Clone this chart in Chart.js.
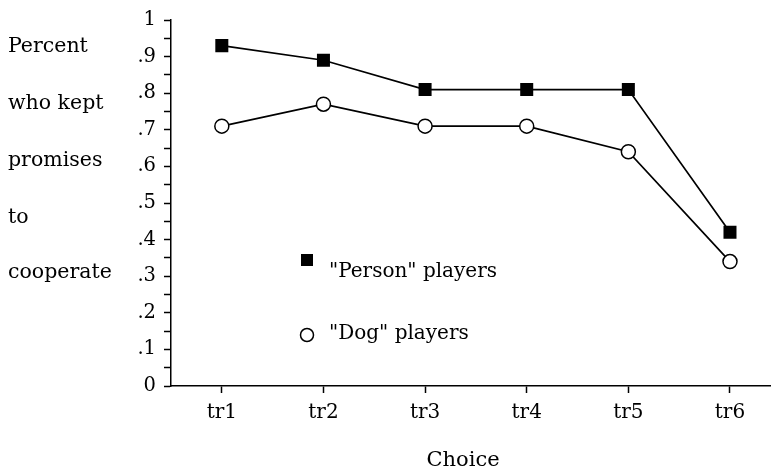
<!DOCTYPE html>
<html><head><meta charset="utf-8">
<script src="https://cdn.jsdelivr.net/npm/chart.js@4.4.0/dist/chart.umd.min.js"></script>
<style>
html,body{margin:0;padding:0;background:#fff;overflow:hidden;width:771px;height:470px}
#wrap{position:relative;width:790px;height:470px}
</style></head><body><div id="wrap"><canvas id="c" width="790" height="470"></canvas></div>
<script>
const categories = ['tr1','tr2','tr3','tr4','tr5','tr6'];
const personPlayers = [0.93, 0.89, 0.81, 0.81, 0.81, 0.42];
const dogPlayers = [0.71, 0.77, 0.71, 0.71, 0.64, 0.34];
const seriesNames = ['"Person" players', '"Dog" players'];
const yAxisTitleLines = ['Percent', 'who kept', 'promises', 'to', 'cooperate'];
const xAxisTitle = 'Choice';

const FONT = "'DejaVu Serif', serif";

const annot = {
  id: 'annot',
  afterDraw(chart) {
    const ctx = chart.ctx;
    ctx.save();
    ctx.fillStyle = '#000';
    ctx.font = '20.5px ' + FONT;
    ctx.textBaseline = 'middle';
    ctx.textAlign = 'left';
    const ys = [47, 104, 161, 218, 273];
    yAxisTitleLines.forEach((t, i) => ctx.fillText(t, 8, ys[i]));
    // x axis title
    ctx.textAlign = 'center';
    ctx.font = '21px ' + FONT;
    ctx.fillText(xAxisTitle, 463, 461);
    // legend
    ctx.textAlign = 'left';
    ctx.font = '20px ' + FONT;
    const ds = chart.data.datasets;
    const items = [{y: 260, ty: 272}, {y: 335, ty: 334}];
    items.forEach((it, i) => {
      const d = ds[i];
      ctx.lineWidth = 1.5;
      ctx.strokeStyle = '#000';
      ctx.fillStyle = d.pointBackgroundColor;
      if (d.pointStyle === 'rect') {
        ctx.fillRect(301, it.y - 6, 12, 12);
      } else {
        ctx.beginPath();
        ctx.arc(307, it.y, 6.5, 0, Math.PI * 2);
        ctx.fill();
        ctx.stroke();
      }
      ctx.fillStyle = '#000';
      ctx.fillText(seriesNames[i], 329, it.ty);
    });
    ctx.restore();
  }
};

new Chart(document.getElementById('c'), {
  type: 'line',
  data: {
    labels: categories,
    datasets: [
      {
        label: seriesNames[0], data: personPlayers,
        borderColor: '#000', borderWidth: 1.7, tension: 0,
        pointStyle: 'rect', pointRadius: 9.2,
        pointBackgroundColor: '#000', pointBorderColor: '#000', pointBorderWidth: 0
      },
      {
        label: seriesNames[1], data: dogPlayers,
        borderColor: '#000', borderWidth: 1.7, tension: 0,
        pointStyle: 'circle', pointRadius: 7,
        pointBackgroundColor: '#fff', pointBorderColor: '#000', pointBorderWidth: 1.5
      }
    ]
  },
  options: {
    responsive: false,
    animation: false,
    layout: {padding: {left: 0, top: 20, right: 9, bottom: 0}},
    plugins: {legend: {display: false}, tooltip: {enabled: false}},
    scales: {
      x: {
        offset: true,
        grid: {drawOnChartArea: false, offset: false, tickLength: 7, tickColor: '#000', tickWidth: 1.5},
        border: {display: true, color: '#000', width: 1.5},
        ticks: {color: '#000', font: {family: FONT, size: 20}, padding: 8, maxRotation: 0},
        title: {display: false},
        afterFit(s) { s.height = 84; }
      },
      y: {
        min: 0, max: 1,
        grid: {drawOnChartArea: false, tickLength: 7, tickColor: '#000', tickWidth: 1.5},
        border: {display: true, color: '#000', width: 1.5},
        ticks: {
          stepSize: 0.05, autoSkip: false, color: '#000', padding: 8,
          font: {family: FONT, size: 19.5},
          callback(v) {
            const k = Math.round(v * 100);
            if (k % 10) return '';
            if (k === 100) return '1';
            if (k === 0) return '0';
            return '.' + (k / 10);
          }
        },
        afterFit(s) { s.width = 171; }
      }
    }
  },
  plugins: [annot]
});
</script>
</body></html>
